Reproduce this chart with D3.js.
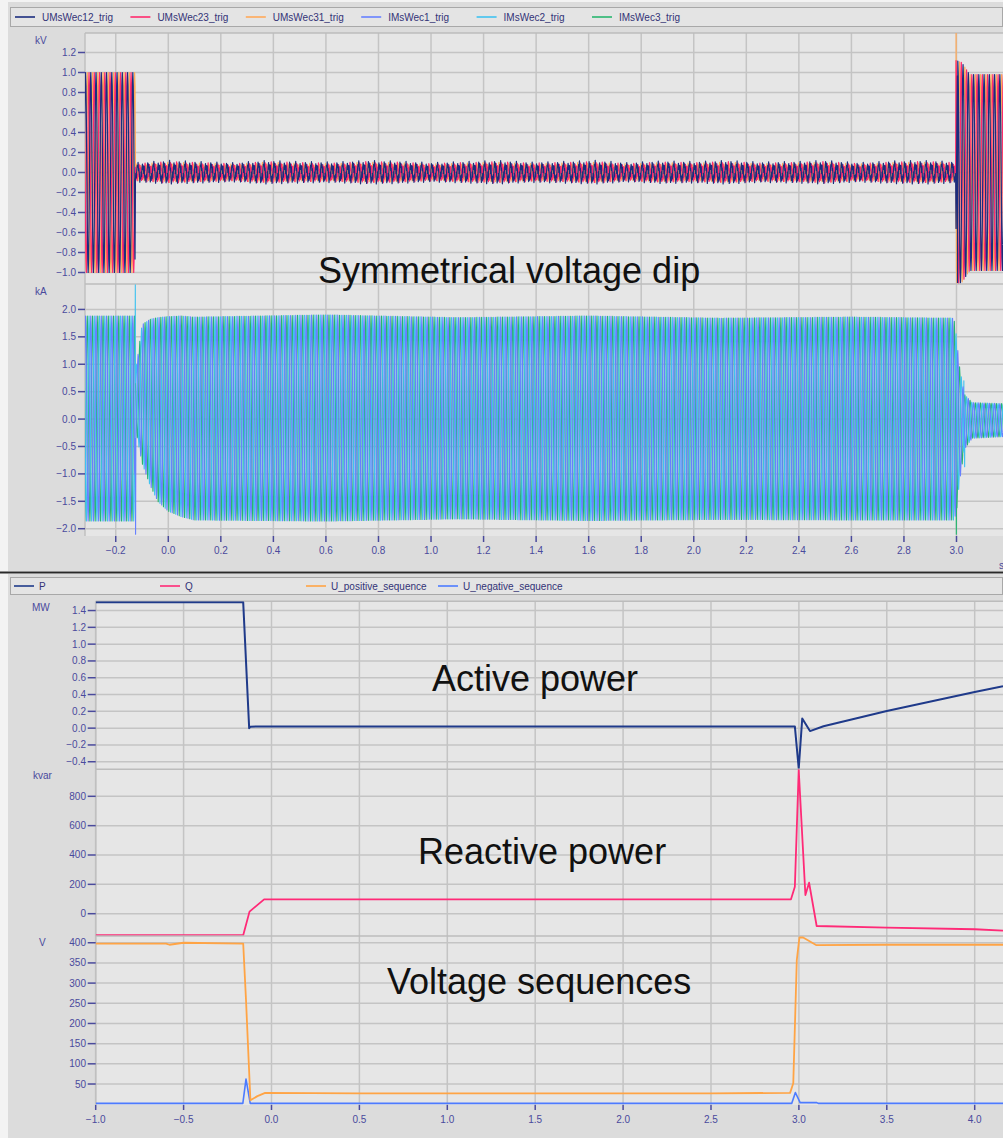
<!DOCTYPE html>
<html><head><meta charset="utf-8">
<script src="https://cdn.jsdelivr.net/npm/d3@7"></script>
<style>
html,body{margin:0;padding:0;background:#f3f3f3;}
svg{display:block;font-family:"Liberation Sans",Arial,sans-serif;}
</style></head><body>
<svg id="c" width="1003" height="1138"></svg>
<script>
// ================= DATA =================
// --- top chart (trigger waveforms) ---
const topSeries = ["UMsWec12_trig","UMsWec23_trig","UMsWec31_trig","IMsWec1_trig","IMsWec2_trig","IMsWec3_trig"];
const topColors = ["#1b2d7e","#ff2a6d","#ffa958","#6680ff","#3fc2f0","#27b56e"];
const voltTicks = [-1.0,-0.8,-0.6,-0.4,-0.2,0.0,0.2,0.4,0.6,0.8,1.0,1.2];
const currentTicks = [-2.0,-1.5,-1.0,-0.5,0.0,0.5,1.0,1.5,2.0];
const topTimeTicks = [-0.2,0.0,0.2,0.4,0.6,0.8,1.0,1.2,1.4,1.6,1.8,2.0,2.2,2.4,2.6,2.8,3.0];
// one 50 Hz period sampled 12 times (sine)
const cycleShape = [0,0.5,0.866,1,0.866,0.5,0,-0.5,-0.866,-1,-0.866,-0.5];
// distorted residual voltage seen during the dip (3 periods, normalised)
const dipShape = [0.4,1.0,0.5,0.85,0.0,0.55,-0.35,-0.95,-0.45,-0.8,-0.1,-0.6,
                  0.2,0.75,0.6,1.1,0.2,0.4,-0.2,-1.05,-0.6,-0.7,0.05,-0.45,
                  0.5,0.9,0.3,0.7,-0.1,0.65,-0.4,-0.8,-0.35,-1.0,-0.2,-0.5];
const phaseOffsets = [0,4,8];                 // 0°, 120°, 240° in samples
const periodSec = 0.02;
const waveStart = -0.32, waveEnd = 3.18;
const dipStart = -0.126, dipEnd = 2.998;
// voltage peak envelope outside the dip (kV)
const voltFullT = [-0.32,-0.126,2.998,3.02,3.05,3.18];
const voltFullA = [1.0,1.0,1.12,1.1,0.98,0.98];
// voltage residual amplitude during the dip (kV)
const dipAmpT = [-0.125,0.0,0.125,0.25,0.375,0.5,0.625,0.75,0.875,1.0,1.125,1.25,1.375,1.5,1.625,1.75,1.875,2.0,2.125,2.25,2.375,2.5,2.625,2.75,2.875,3.0];
const dipAmpV = [0.09,0.11,0.1,0.09,0.11,0.1,0.095,0.11,0.105,0.09,0.1,0.11,0.095,0.1,0.11,0.09,0.105,0.1,0.11,0.095,0.1,0.11,0.09,0.105,0.11,0.1];
const dipPhaseScale = [1.0,0.9,0.85];
// current upper / lower envelope (kA)
const curEnvT   = [-0.32,-0.128,-0.125,-0.12,-0.1,-0.07,-0.04,0.0,0.05,0.1,0.6,1.1,1.6,2.1,2.6,2.99,3.0,3.01,3.03,3.06,3.18];
const curUpper  = [1.88,1.88,1.0,1.0,1.72,1.82,1.85,1.87,1.88,1.86,1.9,1.85,1.88,1.84,1.86,1.84,1.5,1.0,0.45,0.3,0.28];
const curLower  = [-1.86,-1.86,-0.35,-0.3,-0.8,-1.2,-1.5,-1.68,-1.78,-1.84,-1.86,-1.82,-1.85,-1.83,-1.84,-1.84,-1.7,-1.2,-0.55,-0.35,-0.32];
// isolated transient samples
const spikeSeries = ["IMsWec2_trig","IMsWec1_trig","UMsWec31_trig","IMsWec3_trig","IMsWec2_trig","IMsWec2_trig","UMsWec12_trig"];
const spikeT      = [-0.1255,-0.1245,2.9985,2.9995,3.028,3.031,3.004];
const spikeV      = [2.45,-2.1,1.42,-2.1,0.7,-0.87,-1.1];

// --- bottom chart (P, Q, U sequences) ---
const botSeries = ["P","Q","U_positive_sequence","U_negative_sequence"];
const botColors = ["#1f3a8a","#ff2a77","#ffa445","#4d7bff"];
const botTimeTicks = [-1.0,-0.5,0.0,0.5,1.0,1.5,2.0,2.5,3.0,3.5,4.0];
const pTicks = [-0.4,-0.2,0.0,0.2,0.4,0.6,0.8,1.0,1.2,1.4];
const qTicks = [0,200,400,600,800];
const uTicks = [50,100,150,200,250,300,350,400];
const pT = [-1.0,-0.161,-0.127,-0.12,0.5,1.5,2.5,2.977,2.999,3.019,3.063,3.14,3.5,4.0,4.161];
const pV = [1.5,1.5,0.0,0.018,0.02,0.02,0.02,0.02,-0.48,0.115,-0.035,0.022,0.205,0.43,0.5];
const qT = [-1.0,-0.161,-0.125,-0.042,2.955,2.977,2.999,3.037,3.058,3.101,3.5,4.0,4.161];
const qV = [-147,-147,14,98,98,184,980,127,211,-84,-95,-106,-115];
const upT = [-1.0,-0.6,-0.58,-0.5,-0.161,-0.145,-0.12,-0.08,-0.036,0.5,1.5,2.5,2.95,2.968,2.988,3.003,3.024,3.1,3.5,4.161];
const upV = [398,398,395,400,398,258,10,20,28,27,27,27,28,52,357,413,413,394,395,395];
const unT = [-1.0,-0.163,-0.145,-0.121,2.959,2.98,3.007,3.1,3.11,4.161];
const unV = [2,2,62,2,2,29,4,4,2,2];

// ================= LAYOUT =================
const svg = d3.select("#c");
const TICKC = "#4a4a9c", GRID = "#c4c4c4", PLOTBG = "#e6e6e6", PANELBG = "#dcdcdc";
const fmt1 = d3.format(".1f");

svg.append("rect").attr("x",8).attr("y",2).attr("width",995).attr("height",569).attr("fill",PANELBG);
svg.append("rect").attr("x",8).attr("y",574).attr("width",995).attr("height",564).attr("fill",PANELBG);
svg.append("line").attr("x1",0).attr("x2",1003).attr("y1",572.5).attr("y2",572.5).attr("stroke","#2a2a2a").attr("stroke-width",2);

function legend(y0,y1,names,colors,xs,gap){
  svg.append("rect").attr("x",10.5).attr("y",y0+0.5).attr("width",992).attr("height",y1-y0)
    .attr("fill","#e4e4e4").attr("stroke","#a8a8a8");
  names.forEach((n,i)=>{
    svg.append("line").attr("x1",xs[i]).attr("x2",xs[i]+20).attr("y1",(y0+y1)/2+0.5).attr("y2",(y0+y1)/2+0.5)
      .attr("stroke",colors[i]).attr("stroke-width",1.6);
    svg.append("text").attr("x",xs[i]+gap).attr("y",(y0+y1)/2+4).attr("font-size",10).attr("fill","#333377").text(n);
  });
}
legend(7,26,topSeries,topColors,topSeries.map((d,i)=>15+i*115.4),27);
legend(577,594,botSeries,botColors,[14,160,306,438],25);

let clipId=0;
function subplot(opt){
  const {x,y,x0,x1,y0,y1,yTicks,yFmt,unit,unitY,labelEnd,tickLen} = opt;
  const g = svg.append("g");
  g.append("rect").attr("x",x0).attr("y",y0).attr("width",x1-x0).attr("height",y1-y0).attr("fill",PLOTBG);
  g.selectAll(null).data(yTicks).join("line").attr("x1",x0).attr("x2",x1)
    .attr("y1",d=>y(d)).attr("y2",d=>y(d)).attr("stroke",GRID).attr("stroke-width",1.5);
  g.selectAll(null).data(opt.xTicks).join("line").attr("y1",y0).attr("y2",y1)
    .attr("x1",d=>x(d)).attr("x2",d=>x(d)).attr("stroke",GRID).attr("stroke-width",1.5);
  g.append("line").attr("x1",x0).attr("x2",x0).attr("y1",y0).attr("y2",y1).attr("stroke","#c0c0c0").attr("stroke-width",1.5);
  g.append("line").attr("x1",x0).attr("x2",x1).attr("y1",y0).attr("y2",y0).attr("stroke","#bcbcbc").attr("stroke-width",1.5);
  g.selectAll(null).data(yTicks).join("line").attr("x1",x0-tickLen).attr("x2",x0)
    .attr("y1",d=>y(d)).attr("y2",d=>y(d)).attr("stroke",TICKC).attr("stroke-width",1.5);
  g.selectAll(null).data(yTicks).join("text").attr("x",labelEnd).attr("y",d=>y(d)+3.5)
    .attr("text-anchor","end").attr("font-size",10).attr("fill",TICKC).text(yFmt);
  g.append("text").attr("x",opt.unitX).attr("y",unitY).attr("font-size",10).attr("fill",TICKC).text(unit);
  const id="clip"+(clipId++);
  svg.append("clipPath").attr("id",id).append("rect").attr("x",x0).attr("y",y0).attr("width",x1-x0).attr("height",y1-y0);
  return svg.append("g").attr("clip-path",`url(#${id})`);
}

// ---------- top chart ----------
const xTop = d3.scaleLinear().domain([-0.317,3.177]).range([85,1003]);
const yVolt = d3.scaleLinear().domain([-1.115,1.395]).range([284,33]);
const yCur = d3.scaleLinear().domain([-2.133,2.464]).range([536,284]);

const gV = subplot({x:xTop,y:yVolt,x0:85,x1:1003,y0:33,y1:284,yTicks:voltTicks,xTicks:topTimeTicks,
  yFmt:fmt1,unit:"kV",unitX:35,unitY:44,labelEnd:76,tickLen:7});
const gI = subplot({x:xTop,y:yCur,x0:85,x1:1003,y0:284,y1:536,yTicks:currentTicks,xTicks:topTimeTicks,
  yFmt:fmt1,unit:"kA",unitX:35,unitY:295,labelEnd:76,tickLen:7});

svg.selectAll(null).data(topTimeTicks).join("line").attr("x1",d=>xTop(d)).attr("x2",d=>xTop(d))
  .attr("y1",536).attr("y2",542).attr("stroke",TICKC).attr("stroke-width",1.5);
svg.selectAll(null).data(topTimeTicks).join("text").attr("x",d=>xTop(d)).attr("y",554)
  .attr("text-anchor","middle").attr("font-size",10).attr("fill",TICKC).text(fmt1);
svg.append("text").attr("x",999).attr("y",569).attr("font-size",10).attr("fill",TICKC).text("s");

const nPerCycle = cycleShape.length;
const dt = periodSec/nPerCycle;
const nSamples = Math.round((waveEnd-waveStart)/dt)+1;
const fullAmp = d3.scaleLinear().domain(voltFullT).range(voltFullA).clamp(true);
const dipAmp = d3.scaleLinear().domain(dipAmpT).range(dipAmpV).clamp(true);
const cUp = d3.scaleLinear().domain(curEnvT).range(curUpper).clamp(true);
const cLo = d3.scaleLinear().domain(curEnvT).range(curLower).clamp(true);

function withSpikes(name,pts){
  spikeSeries.forEach((s,i)=>{ if(s===name) pts.push({t:spikeT[i],v:spikeV[i]}); });
  return pts.sort((a,b)=>a.t-b.t);
}
function voltSeries(p){
  const pts=[];
  for(let k=0;k<nSamples;k++){
    const t=waveStart+k*dt, idx=(k+phaseOffsets[p])%nPerCycle;
    const v=(t>dipStart && t<dipEnd)? dipAmp(t)*dipPhaseScale[p]*dipShape[(k+phaseOffsets[p]*5)%dipShape.length] : fullAmp(t)*cycleShape[idx];
    pts.push({t,v});
  }
  return withSpikes(topSeries[p],pts);
}
function curSeries(p){
  const pts=[];
  for(let k=0;k<nSamples;k++){
    const t=waveStart+k*dt, idx=(k+phaseOffsets[p])%nPerCycle;
    const u=cUp(t), l=cLo(t);
    pts.push({t,v:(u+l)/2+(u-l)/2*cycleShape[idx]});
  }
  return withSpikes(topSeries[p+3],pts);
}
const lineV = d3.line().x(d=>xTop(d.t)).y(d=>yVolt(d.v));
const lineI = d3.line().x(d=>xTop(d.t)).y(d=>yCur(d.v));
[2,1,0].forEach(p=>{
  gV.append("path").attr("d",lineV(voltSeries(p))).attr("fill","none").attr("stroke",topColors[p])
    .attr("stroke-width",1.2).attr("stroke-linejoin","round");
});
[2,1,0].forEach(p=>{
  gI.append("path").attr("d",lineI(curSeries(p))).attr("fill","none").attr("stroke",topColors[p+3])
    .attr("stroke-width",1.1).attr("stroke-linejoin","round");
});

// ---------- bottom chart ----------
const xBot = d3.scaleLinear().domain([-1.0,4.161]).range([95.7,1003]);
const yP = d3.scaleLinear().domain([-0.49,1.51]).range([769.3,601.3]);
const yQ = d3.scaleLinear().domain([-152,984]).range([936,769.3]);
const yU = d3.scaleLinear().domain([-2,416.7]).range([1105,936]);

const gP = subplot({x:xBot,y:yP,x0:95.7,x1:1003,y0:601.3,y1:769.3,yTicks:pTicks,xTicks:botTimeTicks,
  yFmt:fmt1,unit:"MW",unitX:32,unitY:611,labelEnd:86,tickLen:8});
const gQ = subplot({x:xBot,y:yQ,x0:95.7,x1:1003,y0:769.3,y1:936,yTicks:qTicks,xTicks:botTimeTicks,
  yFmt:d3.format("d"),unit:"kvar",unitX:33,unitY:779,labelEnd:86,tickLen:8});
const gU = subplot({x:xBot,y:yU,x0:95.7,x1:1003,y0:936,y1:1105,yTicks:uTicks,xTicks:botTimeTicks,
  yFmt:d3.format("d"),unit:"V",unitX:39,unitY:946,labelEnd:86,tickLen:8});

svg.selectAll(null).data(botTimeTicks).join("line").attr("x1",d=>xBot(d)).attr("x2",d=>xBot(d))
  .attr("y1",1105).attr("y2",1110).attr("stroke",TICKC).attr("stroke-width",1.5);
svg.selectAll(null).data(botTimeTicks).join("text").attr("x",d=>xBot(d)).attr("y",1123)
  .attr("text-anchor","middle").attr("font-size",10).attr("fill",TICKC).text(fmt1);

function drawLine(g,T,V,y,color,w){
  const pts=T.map((t,i)=>({t,v:V[i]}));
  g.append("path").attr("d",d3.line().x(d=>xBot(d.t)).y(d=>y(d.v))(pts))
    .attr("fill","none").attr("stroke",color).attr("stroke-width",w).attr("stroke-linejoin","round");
}
drawLine(gP,pT,pV,yP,botColors[0],2);
drawLine(gQ,qT,qV,yQ,botColors[1],1.8);
drawLine(gU,unT,unV,yU,botColors[3],1.6);
drawLine(gU,upT,upV,yU,botColors[2],1.8);

// ---------- annotations ----------
const notes = [
  {text:"Symmetrical voltage dip", x:318, y:283},
  {text:"Active power", x:432, y:691},
  {text:"Reactive power", x:418, y:864},
  {text:"Voltage sequences", x:387, y:994}
];
svg.selectAll(null).data(notes).join("text").attr("x",d=>d.x).attr("y",d=>d.y)
  .attr("font-size",36).attr("fill","#111").text(d=>d.text);
</script>
</body></html>
